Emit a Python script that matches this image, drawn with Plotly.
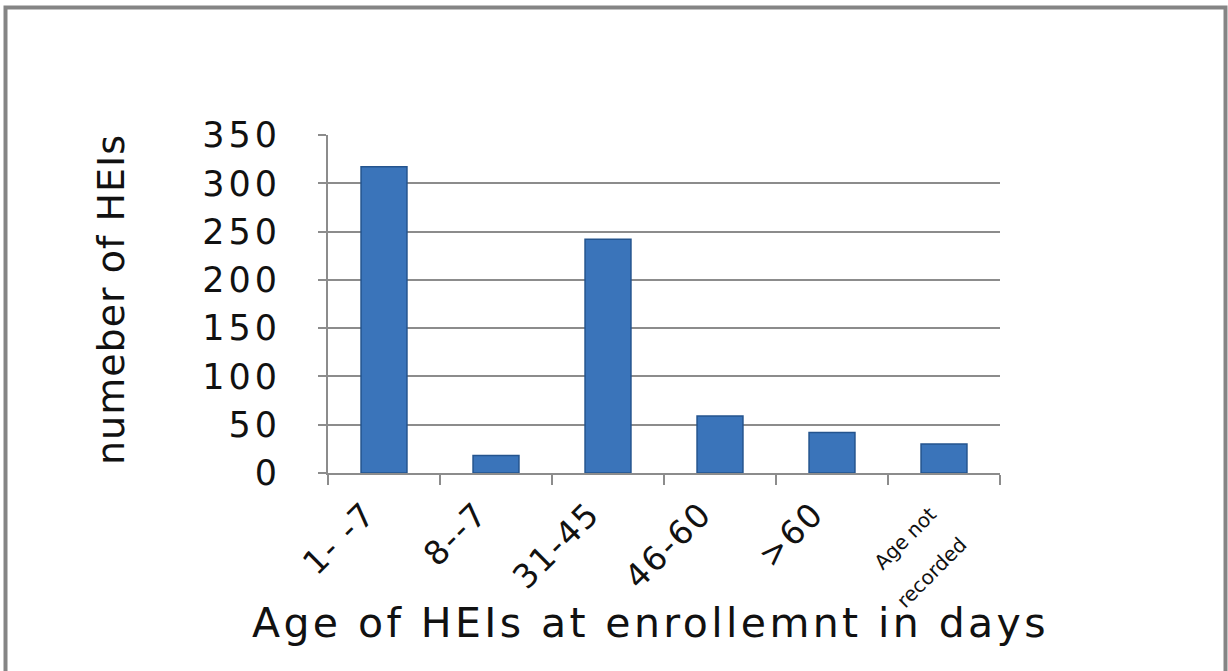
import plotly.graph_objects as go

categories = ["1- -7", "8--7", "31-45", "46-60", ">60", "Age not recorded"]
tick_labels = ["1- -7", "8--7", "31-45", "46-60", ">60", "Age not<br>recorded"]
values = [317, 18, 242, 59, 42, 30]
y_ticks = [0, 50, 100, 150, 200, 250, 300, 350]
y_tick_labels = ["0", "50", "100", "150", "200", "250", "300", "350"]
x_title = "Age of HEIs at enrollemnt in days"
y_title = "numeber of HEIs"

W, H = 1228, 671
L, R, T, B = 328, 228, 135, 198
pw, ph = W - L - R, H - T - B


def px_x(px):
    return (px - L) / pw


def px_y(py):
    return (H - B - py) / ph


def spaced(text, sp, size=None):
    st = f"letter-spacing:{sp}px"
    if size:
        st += f";font-size:{size}px"
    return f"<span style='{st}'>{text}</span>"


fig = go.Figure()
fig.add_trace(go.Bar(
    x=categories, y=values,
    marker=dict(color="#3A74BA", line=dict(color="#24548E", width=1.5)),
    width=0.41,
))

font_family = "DejaVu Sans"
xt = [spaced(t, 2) for t in tick_labels[:-1]] + [spaced(tick_labels[-1], 0, 20)]

fig.update_layout(
    width=W, height=H,
    margin=dict(l=L, r=R, t=T, b=B, autoexpand=False),
    paper_bgcolor="white", plot_bgcolor="white",
    showlegend=False,
    font=dict(family=font_family, color="#111111"),
    xaxis=dict(
        type="category",
        tickmode="array", tickvals=categories, ticktext=xt,
        tickangle=-45,
        tickfont=dict(size=33, family=font_family, color="#111111"),
        showgrid=False,
        showline=True, linecolor="#8c8c8c", linewidth=2,
        ticks="outside", ticklen=10, tickwidth=2, tickcolor="#8c8c8c",
        tickson="boundaries",
        ticklabelshift=-18,
        ticklabelstandoff=6,
        range=[-0.5, 5.5],
        automargin=False,
    ),
    yaxis=dict(
        range=[0, 350],
        tickmode="array", tickvals=y_ticks,
        ticktext=[spaced(t, 4) for t in y_tick_labels],
        tickfont=dict(size=35, family=font_family, color="#111111"),
        showgrid=True, gridcolor="#8c8c8c", gridwidth=2,
        showline=True, linecolor="#8c8c8c", linewidth=2,
        ticks="outside", ticklen=8, tickwidth=2, tickcolor="#8c8c8c",
        ticklabelstandoff=30,
        automargin=False,
        zeroline=False,
    ),
    annotations=[
        dict(text=spaced(x_title, 3.4), xref="paper", yref="paper",
             x=px_x(650), y=px_y(623), xanchor="center", yanchor="middle",
             showarrow=False,
             font=dict(size=41, family=font_family, color="#111111")),
        dict(text=spaced(y_title, 1), xref="paper", yref="paper",
             x=px_x(111), y=px_y(300), xanchor="center", yanchor="middle",
             textangle=-90, showarrow=False,
             font=dict(size=38, family=font_family, color="#111111")),
    ],
    shapes=[dict(
        type="rect", xref="paper", yref="paper",
        x0=px_x(5.5), x1=px_x(1225.5), y0=px_y(690), y1=px_y(7.5),
        line=dict(color="#858585", width=4), fillcolor="rgba(0,0,0,0)",
        layer="below",
    )],
)

fig.write_html("out.html", config={"displayModeBar": False},
               post_script="document.body.style.margin='0';")
